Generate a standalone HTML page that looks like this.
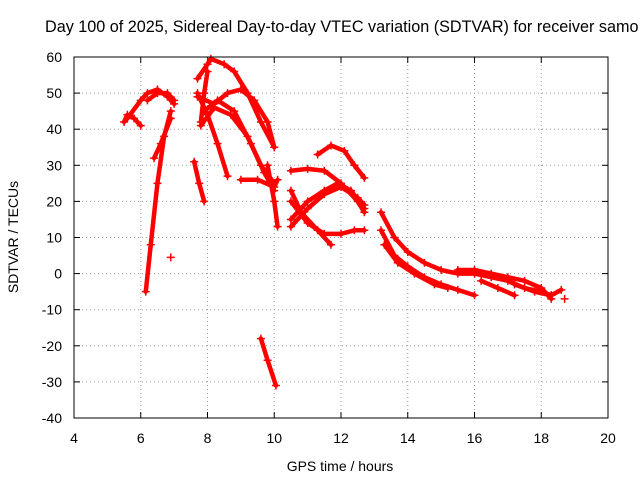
<!DOCTYPE html>
<html><head><meta charset="utf-8"><style>
body{margin:0;background:#fff}
svg{display:block;font-family:"Liberation Sans",sans-serif}
</style></head><body>
<svg id="chart" width="640" height="480">
<rect width="640" height="480" fill="#fff"/>
<text x="45" y="32" font-size="16.2" text-anchor="start">Day 100 of 2025, Sidereal Day-to-day VTEC variation (SDTVAR) for receiver samo</text>
<g id="grid"></g><g id="ticks"></g><g id="series"></g>
<rect x="74" y="57" width="534" height="361" fill="none" stroke="#000" stroke-width="1"/>
<text x="340" y="471" font-size="14" text-anchor="middle">GPS time / hours</text>
<text transform="translate(18,237) rotate(-90)" font-size="14" text-anchor="middle">SDTVAR / TECUs</text>
</svg>
<script>
const xTicks=[4,6,8,10,12,14,16,18,20];
const yTicks=[-40,-30,-20,-10,0,10,20,30,40,50,60];
const track1=[[5.5,42],[5.6,44],[5.8,43],[6.0,41]];
const track2=[[5.6,43],[6.0,48],[6.2,50],[6.5,51],[6.8,49],[7.0,47]];
const track3=[[6.15,-5],[6.3,8],[6.5,25],[6.7,38],[6.9,45]];
const track4=[[6.2,48],[6.5,50],[6.8,50],[7.0,48]];
const track5=[[6.4,32],[6.6,36],[6.9,43]];
const track6=[[6.9,4.5]];
const track7=[[7.6,31],[7.75,25],[7.9,20]];
const track8=[[7.7,54],[8.0,58],[8.1,59.5],[8.5,58],[8.8,56],[9.2,50],[9.6,42],[10.0,35]];
const track9=[[7.7,49],[8.2,47],[8.6,50],[9.0,51],[9.4,48],[9.8,42],[10.0,35]];
const track10=[[7.7,50],[8.0,44],[8.3,36],[8.6,27]];
const track11=[[7.8,41],[8.2,46],[8.7,44],[9.2,38],[9.6,30],[10.0,25]];
const track12=[[7.9,45],[8.3,48],[8.8,45],[9.3,36],[9.7,28],[10.0,23]];
const track13=[[7.8,42],[7.9,50],[8.0,56]];
const track14=[[9.0,26],[9.5,26],[10.0,24],[10.1,26]];
const track15=[[9.6,-18],[9.8,-24],[10.05,-31]];
const track16=[[9.8,30],[10.0,20],[10.1,13]];
const track17=[[10.5,28.5],[11.0,29],[11.5,28.5],[12.0,25],[12.5,20],[12.7,17]];
const track18=[[11.3,33],[11.7,35.5],[12.1,34],[12.4,30],[12.7,26.5]];
const track19=[[10.5,23],[10.8,17],[11.3,12],[11.7,8]];
const track20=[[10.5,15],[11.0,20],[11.5,23],[11.9,25],[12.3,23],[12.7,18]];
const track21=[[10.5,13],[11.0,18],[11.5,22],[12.0,24],[12.5,21],[12.7,19]];
const track22=[[10.5,20],[11.0,14],[11.5,11],[12.0,11],[12.4,12],[12.7,12]];
const track23=[[13.2,17],[13.6,10],[14.0,6],[14.5,3],[15.0,1],[15.5,0],[16.0,0],[16.5,-1],[17.0,-2],[17.5,-4],[18.0,-5],[18.3,-6],[18.6,-4.5]];
const track24=[[13.2,12],[13.6,5],[14.0,2],[14.5,-1],[15.0,-3],[15.5,-4.5],[16.0,-6]];
const track25=[[13.3,8],[13.7,3],[14.2,0],[14.8,-3],[15.2,-4]];
const track26=[[15.5,1],[16.0,1],[16.5,0],[17.0,-1],[17.5,-2],[18.0,-4],[18.3,-7]];
const track27=[[16.2,-2],[16.7,-4],[17.2,-6]];
const track28=[[17.2,-3],[17.8,-5],[18.3,-6]];
const track29=[[18.7,-7]];
const tracks=[track1,track2,track3,track4,track5,track6,track7,track8,track9,track10,track11,track12,track13,track14,track15,track16,track17,track18,track19,track20,track21,track22,track23,track24,track25,track26,track27,track28,track29];

const NS="http://www.w3.org/2000/svg";
const X=v=>74+(v-4)*534/16;
const Y=v=>418-(v+40)*361/100;
function mk(tag,attrs,parent){const e=document.createElementNS(NS,tag);for(const k in attrs)e.setAttribute(k,attrs[k]);parent.appendChild(e);return e;}
const grid=document.getElementById('grid'),ticks=document.getElementById('ticks'),ser=document.getElementById('series');
xTicks.forEach(t=>{
  const x=X(t);
  if(t>4&&t<20){const g=mk('line',{x1:x,x2:x,y1:57,y2:418,stroke:'#a0a0a0','stroke-dasharray':'1,3'},grid);
  
  }
  mk('line',{x1:x,x2:x,y1:418,y2:412,stroke:'#000'},ticks);
  mk('line',{x1:x,x2:x,y1:57,y2:63,stroke:'#000'},ticks);
  const l=mk('text',{x:x,y:443,'font-size':14,'text-anchor':'middle'},ticks);l.textContent=t;
  
  
});
yTicks.forEach(t=>{
  const y=Y(t);
  if(t>-40&&t<60){const g=mk('line',{x1:74,x2:608,y1:y,y2:y,stroke:'#a0a0a0','stroke-dasharray':'1,3'},grid);
  
  }
  mk('line',{x1:74,x2:80,y1:y,y2:y,stroke:'#000'},ticks);
  mk('line',{x1:608,x2:602,y1:y,y2:y,stroke:'#000'},ticks);
  const l=mk('text',{x:62,y:y+5,'font-size':14,'text-anchor':'end'},ticks);l.textContent=t;
  
  
});
tracks.forEach(tr=>{
  if(tr.length>1){
    const p=mk('polyline',{points:tr.map(d=>X(d[0])+','+Y(d[1])).join(' '),fill:'none',stroke:'#f00','stroke-width':4.5,'stroke-linejoin':'round','stroke-linecap':'round'},ser);
    
    
  }
  tr.forEach(d=>{
    const x=X(d[0]),y=Y(d[1]);
    const m=mk('path',{d:`M${x-4},${y}H${x+4}M${x},${y-4}V${y+4}`,stroke:'#f00','stroke-width':1.5},ser);
    
    
  });
});
</script>
</body></html>
